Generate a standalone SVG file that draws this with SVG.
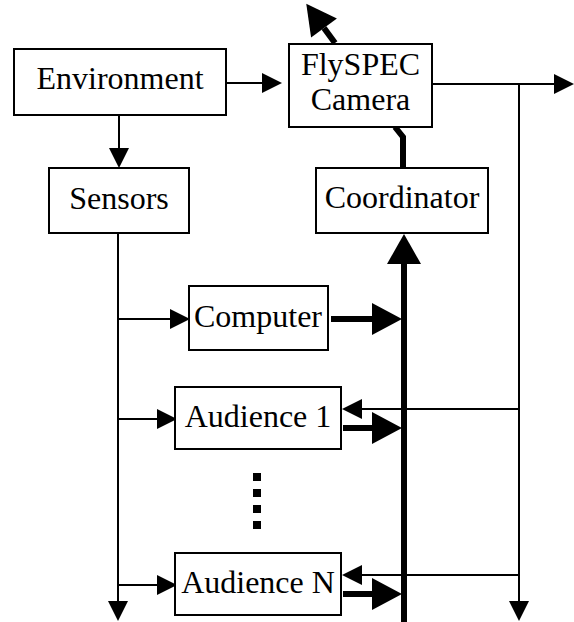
<svg xmlns="http://www.w3.org/2000/svg" width="574" height="622" viewBox="0 0 574 622">
  <defs>
    <style>
      .box { fill: #fff; stroke: #000; stroke-width: 2; }
      .lbl { font-family: "Liberation Serif", "Times New Roman", serif; font-size: 32px; fill: #000; text-anchor: middle; }
      .thin { fill: none; stroke: #000; stroke-width: 2; marker-end: url(#head); }
      .wire { fill: none; stroke: #000; stroke-width: 2; }
      .thick { fill: none; stroke: #000; stroke-width: 6; marker-end: url(#bighead); }
      .bar { fill: none; stroke: #000; stroke-width: 6; }
    </style>
    <marker id="head" markerUnits="userSpaceOnUse" markerWidth="20" markerHeight="20" refX="0" refY="10" orient="auto" overflow="visible">
      <path d="M0,0 L20,10 L0,20 z" fill="#000"/>
    </marker>
    <marker id="bighead" markerUnits="userSpaceOnUse" markerWidth="30" markerHeight="32" refX="0" refY="16" orient="auto" overflow="visible">
      <path d="M0,0 L30,16 L0,32 z" fill="#000"/>
    </marker>
    <marker id="bushead" markerUnits="userSpaceOnUse" markerWidth="30" markerHeight="34" refX="0" refY="17" orient="auto" overflow="visible">
      <path d="M0,0 L30,17 L0,34 z" fill="#000"/>
    </marker>
  </defs>

  <g id="connectors">
    <!-- environment feeds the camera and the sensors -->
    <line class="thin" x1="226" y1="83" x2="262" y2="83"/>
    <line class="thin" x1="119" y1="115" x2="119" y2="148"/>
    <!-- sensor distribution line -->
    <line class="thin" x1="118" y1="233" x2="118" y2="601"/>
    <line class="thin" x1="118" y1="319" x2="170" y2="319"/>
    <line class="thin" x1="118" y1="419" x2="157" y2="419"/>
    <line class="thin" x1="118" y1="585" x2="157" y2="585"/>
    <!-- camera output line and feedback -->
    <line class="thin" x1="432" y1="84" x2="554" y2="84"/>
    <line class="thin" x1="519" y1="84" x2="519" y2="601"/>
    <line class="thin" x1="519" y1="409" x2="362" y2="409"/>
    <line class="thin" x1="519" y1="575" x2="362" y2="575"/>
    <!-- control bus -->
    <line class="thick" x1="331" y1="319" x2="372" y2="319"/>
    <line class="thick" x1="343" y1="428" x2="372" y2="428"/>
    <line class="thick" x1="343" y1="594" x2="372" y2="594"/>
    <line x1="404" y1="622" x2="404" y2="264" stroke="#000" stroke-width="6" marker-end="url(#bushead)"/>
    <polyline class="bar" points="403,168 403,137 395,127"/>
    <line class="thick" x1="335" y1="43" x2="324" y2="28"/>
  </g>

  <g id="environment">
    <rect class="box" x="14" y="49" width="212" height="66"/>
    <text class="lbl" x="120" y="89">Environment</text>
  </g>
  <g id="flyspec-camera">
    <rect class="box" x="289" y="44" width="143" height="83"/>
    <text class="lbl" x="360.5" y="75">FlySPEC</text>
    <text class="lbl" x="360.5" y="110">Camera</text>
  </g>
  <g id="sensors">
    <rect class="box" x="49" y="168" width="140" height="65"/>
    <text class="lbl" x="119" y="209">Sensors</text>
  </g>
  <g id="coordinator">
    <rect class="box" x="316" y="168" width="172" height="65"/>
    <text class="lbl" x="402" y="208">Coordinator</text>
  </g>
  <g id="computer">
    <rect class="box" x="189" y="286" width="139" height="64"/>
    <text class="lbl" x="258" y="327">Computer</text>
  </g>
  <g id="audience-1">
    <rect class="box" x="175" y="387" width="166" height="62"/>
    <text class="lbl" x="258" y="427">Audience 1</text>
  </g>
  <g id="ellipsis">
    <rect x="253" y="473" width="8" height="8" fill="#000"/>
    <rect x="253" y="489" width="8" height="8" fill="#000"/>
    <rect x="253" y="505" width="8" height="8" fill="#000"/>
    <rect x="253" y="521" width="8" height="8" fill="#000"/>
  </g>
  <g id="audience-n">
    <rect class="box" x="175" y="553" width="166" height="62"/>
    <text class="lbl" x="258" y="593">Audience N</text>
  </g>
</svg>
